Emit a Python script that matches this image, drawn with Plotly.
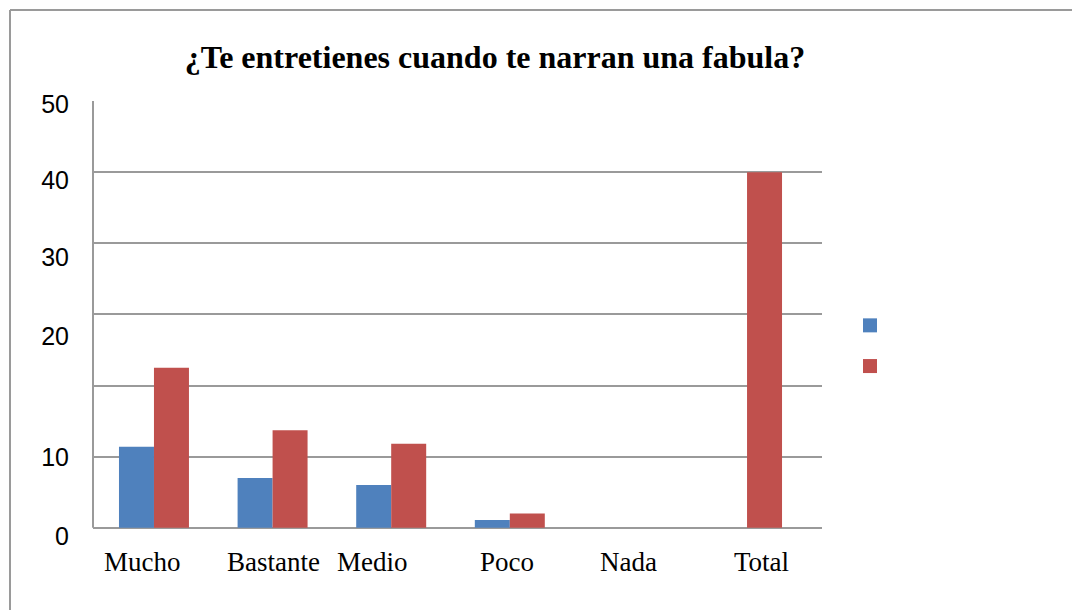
import plotly.graph_objects as go

# Data (bar heights in gridline units, one gridline = 10)
categories = ["Mucho", "Bastante", "Medio", "Poco", "Nada", "Total"]
serie_azul = [11.4, 7.0, 6.0, 1.1, 0, 0]
serie_roja = [22.5, 13.7, 11.8, 2.0, 0, 50]

# Y tick labels as printed in the original (they do not sit on the gridlines)
ytick_text = ["0", "10", "20", "30", "40", "50"]
ytick_pos = [-1.2, 9.9, 26.9, 38.0, 48.8, 59.6]
grid_vals = [0, 10, 20, 30, 40, 50, 60]

AZUL = "#4F81BD"
ROJO = "#C0504D"
GRIS = "#9A9A9A"

# small horizontal nudges of the category labels, as in the original
label_nudge = [-11, 1, -19, -3, 0, 14]

# page has an 8px body margin, so the figure is sized/offset to fit
W, H = 1072, 602
PW, PH = 729, 436
L, T = 85, 93
R = W - L - PW
B = H - T - PH

fig = go.Figure()
fig.add_trace(go.Bar(x=categories, y=serie_azul, marker_color=AZUL,
                     marker_line_width=0, showlegend=False))
fig.add_trace(go.Bar(x=categories, y=serie_roja, marker_color=ROJO,
                     marker_line_width=0, showlegend=False))

# legend entries (empty labels, as in the original)
for col in (AZUL, ROJO):
    fig.add_trace(go.Scatter(x=[None], y=[None], mode="markers", name=" ",
                             marker=dict(symbol="square", size=14, color=col)))

for cat, dx in zip(categories, label_nudge):
    fig.add_annotation(
        x=cat, xref="x", y=0, yref="paper", yshift=-25, xshift=dx,
        text=cat, showarrow=False, yanchor="middle",
        font=dict(family="Liberation Serif", size=27, color="black"),
    )

# outer chart frame (only top and left edges show)
fx = -83 / PW
fy = 1 + 91 / PH
fig.add_shape(type="line", xref="paper", yref="paper",
              x0=fx, x1=1.5, y0=fy, y1=fy, line=dict(color=GRIS, width=2))
fig.add_shape(type="line", xref="paper", yref="paper",
              x0=fx, x1=fx, y0=fy, y1=-0.3, line=dict(color=GRIS, width=2))
# y axis line, from 0 to top
fig.add_shape(type="line", xref="paper", yref="y", x0=0, x1=0, y0=0, y1=60,
              line=dict(color=GRIS, width=2))

fig.update_layout(
    width=W, height=H,
    margin=dict(l=L, r=R, t=T, b=B),
    paper_bgcolor="white", plot_bgcolor="white",
    title=dict(text="<b>¿Te entretienes cuando te narran una fabula?</b>",
               x=(495 - 8) / W, xanchor="center", y=1 - (57 - 8) / H, yanchor="middle",
               font=dict(family="Liberation Serif", size=32, color="black")),
    barmode="group", bargap=0.41, bargroupgap=0,
    showlegend=True,
    legend=dict(x=(850 - 93) / PW, xanchor="left", y=(537 - 346) / PH, yanchor="middle",
                font=dict(family="Liberation Sans", size=29), bgcolor="rgba(0,0,0,0)",
                itemsizing="trace"),
    xaxis=dict(range=[-0.514, 5.632], showticklabels=False, showline=False,
               showgrid=False, zeroline=False, ticks=""),
    yaxis=dict(range=[-1.3, 60], tickvals=ytick_pos, ticktext=ytick_text,
               showgrid=False, zeroline=False, showline=False, ticks="",
               tickfont=dict(family="Liberation Sans", size=25, color="black"),
               ticklabelstandoff=23,
               minor=dict(tickvals=grid_vals, showgrid=True, gridcolor=GRIS, gridwidth=2,
                          ticks="")),
)

fig.write_html("out.html")
